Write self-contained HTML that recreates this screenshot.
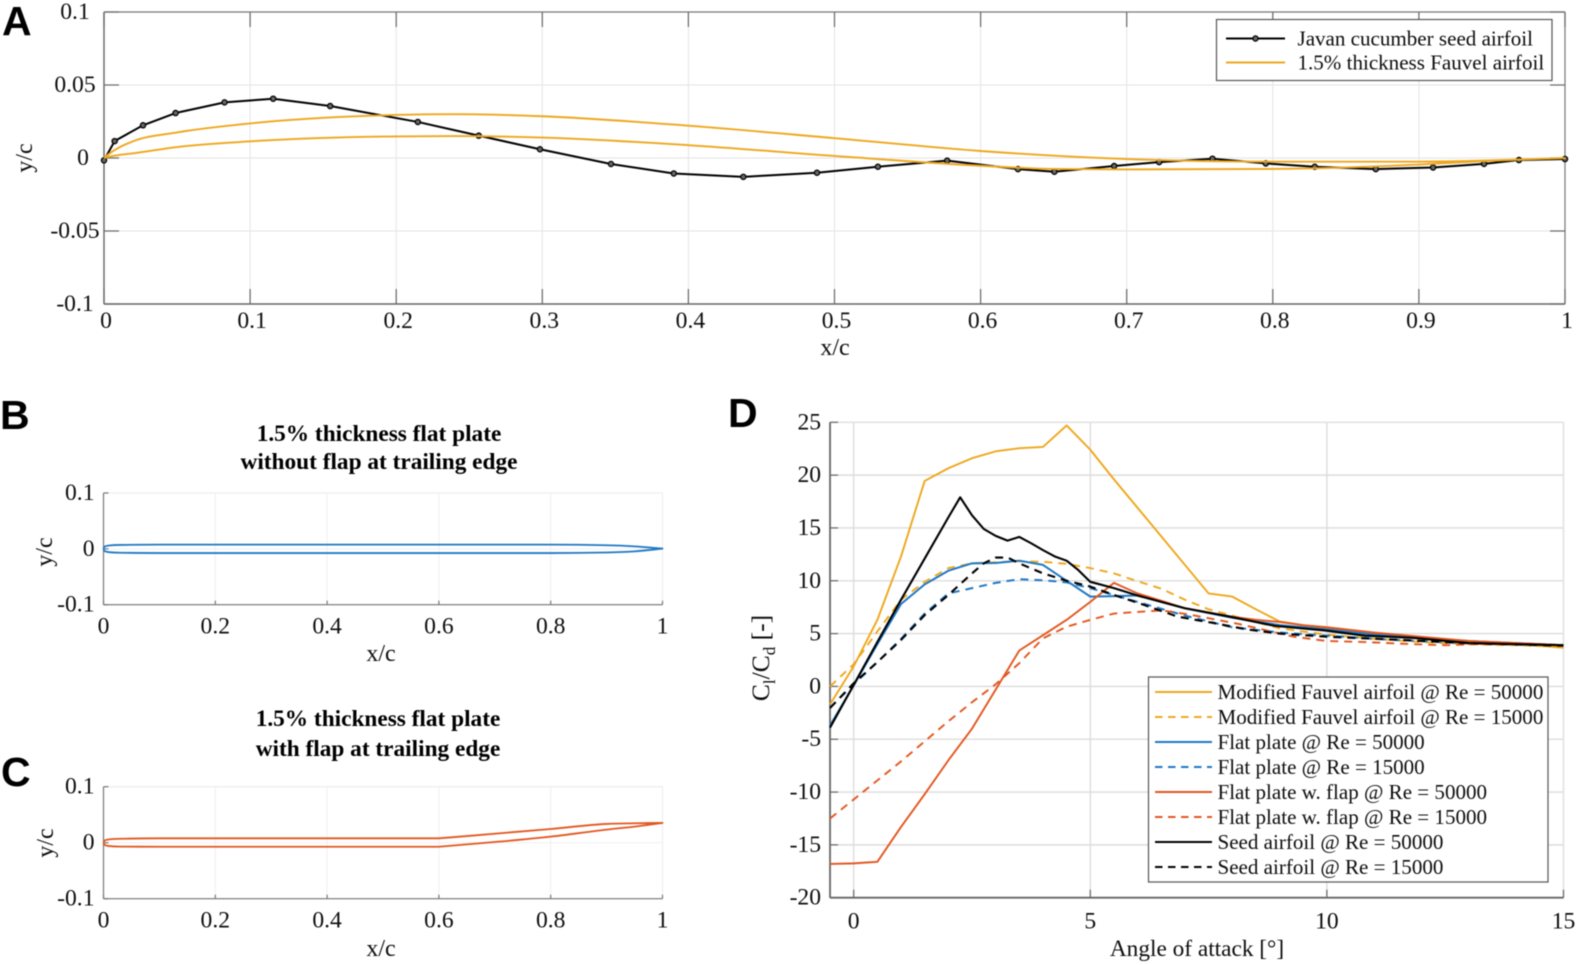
<!DOCTYPE html>
<html lang="en">
<head>
<meta charset="utf-8">
<title>Airfoil geometry and lift-to-drag comparison</title>
<style>
  html, body { margin: 0; padding: 0; background: #fff; }
  #figure { display: block; width: 1577px; height: 965px; filter: blur(0.4px); }
  text { font-family: "Liberation Serif", serif; fill: #0d0d0d; }
  .panel-letter { font-family: "Liberation Sans", sans-serif; font-weight: 700; font-size: 41px; fill: #000; }
  .title { font-weight: 700; font-size: 23.3px; text-anchor: middle; fill: #000; }
  .axis-title { font-size: 24px; text-anchor: middle; }
  .tick { font-size: 23.6px; }
  .legend-text { font-size: 21.05px; }
</style>
</head>
<body>
<svg id="figure" xmlns="http://www.w3.org/2000/svg" width="1577" height="965" viewBox="0 0 1577 965">
  <rect width="1577" height="965" fill="#fff"/>
  <g id="plots"></g>

  <text class="panel-letter" x="2" y="35">A</text>
  <text class="panel-letter" x="0" y="429">B</text>
  <text class="panel-letter" x="1" y="786">C</text>
  <text class="panel-letter" x="728" y="427">D</text>

  <text class="title" x="379" y="441">1.5% thickness flat plate</text>
  <text class="title" x="379" y="469">without flap at trailing edge</text>
  <text class="title" x="378" y="726">1.5% thickness flat plate</text>
  <text class="title" x="378" y="756">with flap at trailing edge</text>

  <text class="axis-title" x="835" y="355">x/c</text>
  <text class="axis-title" transform="translate(32,158) rotate(-90)">y/c</text>
  <text class="axis-title" x="381" y="661">x/c</text>
  <text class="axis-title" transform="translate(52,552) rotate(-90)">y/c</text>
  <text class="axis-title" x="381" y="956">x/c</text>
  <text class="axis-title" transform="translate(53,843) rotate(-90)">y/c</text>
  <text class="axis-title" x="1197" y="956" style="font-size:23.3px">Angle of attack [°]</text>
  <text class="axis-title" transform="translate(769,658) rotate(-90)" style="font-size:25.5px">C<tspan dy="6" font-size="17">l</tspan><tspan dy="-6">/C</tspan><tspan dy="6" font-size="17">d</tspan><tspan dy="-6"> [-]</tspan></text>

  <g id="legend-a"></g>
  <g id="legend-d"></g>
</svg>

<script>
// ---------- Panel A data ----------
const seedX = [0, 0.0073, 0.0267, 0.049, 0.0825, 0.1158, 0.1548, 0.2148, 0.2565, 0.2984, 0.347, 0.39, 0.4376, 0.488, 0.5297, 0.5771, 0.6256, 0.6505, 0.6914, 0.7222, 0.7587, 0.7952, 0.8287, 0.8705, 0.9097, 0.9446, 0.9685, 1];
const seedY = [-0.0016, 0.0116, 0.0224, 0.0308, 0.0381, 0.0406, 0.0356, 0.0247, 0.0153, 0.006, -0.0041, -0.0106, -0.0129, -0.0101, -0.006, -0.0018, -0.0076, -0.0094, -0.0055, -0.0028, -0.0005, -0.0037, -0.006, -0.0076, -0.0065, -0.004, -0.0014, -0.0007];
const fauvelX = [0, 0.005, 0.01, 0.02, 0.05, 0.1, 0.15, 0.2, 0.24, 0.3, 0.4, 0.5, 0.6, 0.7, 0.8, 0.9, 1, 0.95, 0.9, 0.8, 0.7, 0.65, 0.6, 0.5, 0.4, 0.3, 0.24, 0.2, 0.1, 0.05, 0.02, 0.01, 0.005, 0];
const fauvelY = [0, 0.004, 0.007, 0.0115, 0.0175, 0.0237, 0.0275, 0.0295, 0.03, 0.0286, 0.0221, 0.0136, 0.0048, -0.0007, -0.0025, -0.0025, 0, -0.0018, -0.0045, -0.0075, -0.0078, -0.0075, -0.0053, 0.0014, 0.0088, 0.014, 0.015, 0.0148, 0.0114, 0.0075, 0.0032, 0.002, 0.0012, 0];

// ---------- Panels B and C data ----------
const plateX = [0, 0.002, 0.01, 0.03, 0.1, 0.4, 0.8, 0.9, 0.95, 1, 0.95, 0.9, 0.8, 0.4, 0.1, 0.03, 0.01, 0.002, 0];
const plateY = [0, 0.004, 0.006, 0.007, 0.0075, 0.0075, 0.0075, 0.0065, 0.0045, 0.0005, -0.0045, -0.0065, -0.0075, -0.0075, -0.0075, -0.007, -0.006, -0.004, 0];
const flapX = [0, 0.002, 0.01, 0.03, 0.1, 0.4, 0.6, 0.8, 0.9, 0.95, 1, 0.95, 0.9, 0.8, 0.7, 0.6, 0.4, 0.1, 0.03, 0.01, 0.002, 0];
const flapY = [0, 0.004, 0.006, 0.007, 0.0078, 0.0078, 0.0078, 0.0245, 0.0335, 0.0347, 0.0353, 0.0287, 0.0234, 0.0108, 0.0012, -0.0072, -0.0072, -0.0072, -0.007, -0.006, -0.004, 0];

// ---------- Panel D data ----------
const fauvel50kAoa = [-0.5, 0, 0.5, 1, 1.5, 2, 2.5, 3, 3.5, 4, 4.5, 5, 5.5, 6, 6.5, 7, 7.5, 8, 8.5, 9, 9.5, 10, 10.5, 11, 11.5, 12, 12.5, 13, 13.5, 14, 14.5, 15];
const fauvel50kRatio = [-1.7, 1.9, 6.3, 12.3, 19.45, 20.65, 21.6, 22.25, 22.55, 22.67, 24.7, 22.4, 19.6, 16.9, 14.2, 11.5, 8.8, 8.5, 7.3, 6.15, 5.8, 5.5, 5.25, 5.0, 4.8, 4.6, 4.4, 4.2, 4.1, 4.0, 3.85, 3.65];
const fauvel15kAoa = [-0.5, 0, 0.5, 1, 1.5, 2, 2.5, 3, 3.5, 4, 4.5, 5, 5.5, 6, 6.5, 7, 7.5, 8, 8.5, 9, 10, 11, 12, 13, 14, 15];
const fauvel15kRatio = [0, 2.1, 5.2, 8.2, 9.9, 11.2, 11.65, 11.75, 11.85, 11.8, 11.6, 11.2, 10.7, 9.95, 9.25, 8.2, 7.3, 6.7, 6.1, 5.5, 4.9, 4.5, 4.2, 4.0, 3.9, 3.75];
const flat50kAoa = [-0.5, 0, 0.5, 1, 1.5, 2, 2.5, 3, 3.5, 4, 4.5, 5, 5.5, 6, 6.5, 7, 8, 9, 10, 11, 12, 13, 14, 15];
const flat50kRatio = [-3.7, 0.1, 4.0, 7.8, 9.66, 10.95, 11.65, 11.68, 11.9, 11.5, 10, 8.5, 8.55, 8.6, 8.0, 7.4, 6.5, 5.8, 5.4, 4.9, 4.6, 4.3, 4.1, 3.9];
const flat15kAoa = [-0.5, 0, 0.5, 1, 1.5, 2, 2.5, 3, 3.5, 4, 4.5, 5, 6, 7, 8, 9, 10, 11, 12, 13, 14, 15];
const flat15kRatio = [-2.0, 0.2, 2.3, 4.5, 6.9, 8.8, 9.3, 9.8, 10.15, 10.05, 9.85, 9.3, 8.0, 6.7, 5.6, 5.1, 4.8, 4.5, 4.3, 4.1, 4.0, 3.9];
const flap50kAoa = [-0.5, 0, 0.5, 1, 1.5, 2, 2.5, 3, 3.5, 4, 4.5, 5, 5.5, 6, 6.5, 7, 7.5, 8, 8.5, 9, 9.5, 10, 11, 12, 13, 14, 15];
const flap50kRatio = [-16.8, -16.75, -16.6, -13.3, -10.2, -7, -4, -0.3, 3.4, 4.85, 6.3, 8.0, 9.8, 8.8, 8.1, 7.4, 7.0, 6.6, 6.3, 6.1, 5.8, 5.6, 5.1, 4.7, 4.3, 4.1, 3.9];
const flap15kAoa = [-0.5, 0, 0.5, 1, 1.5, 2, 2.5, 3, 3.5, 4, 4.5, 5, 5.5, 6, 6.5, 7.1, 8.15, 9.3, 10, 10.8, 11.8, 12.5, 13.1, 15];
const flap15kRatio = [-12.5, -10.7, -8.9, -7.1, -5.2, -3.3, -1.5, 0.2, 2.2, 4.55, 5.65, 6.3, 6.9, 7.05, 7.2, 6.8, 5.9, 4.7, 4.3, 4.2, 4.0, 3.9, 4.0, 3.9];
const seed50kAoa = [-0.5, 0, 0.5, 1, 1.5, 2, 2.25, 2.5, 2.75, 3, 3.25, 3.5, 3.75, 4, 4.25, 4.5, 4.75, 5, 5.5, 6, 7, 7.9, 8.9, 9.95, 10.8, 11.8, 13, 15];
const seed50kRatio = [-3.9, 0.15, 4.2, 8.2, 12.1, 16, 17.9, 16.2, 14.9, 14.25, 13.8, 14.15, 13.55, 12.9, 12.3, 11.9, 11, 9.9, 9.3, 8.6, 7.4, 6.65, 5.73, 5.3, 4.8, 4.6, 4.1, 3.9];
const seed15kAoa = [-0.5, 0, 0.5, 1, 1.5, 2, 2.5, 2.75, 3, 3.25, 3.5, 4, 4.5, 5, 5.5, 6.05, 6.85, 7.6, 8.3, 9, 10, 11.1, 12.9, 15];
const seed15kRatio = [-2.05, 0.3, 2.3, 4.4, 6.75, 8.65, 10.7, 11.65, 12.2, 12.2, 11.65, 10.7, 10, 9.45, 8.65, 7.85, 6.6, 6.0, 5.4, 5.0, 4.7, 4.5, 4.1, 3.85];

// ---------- Tick labels ----------
const panelAXTicks = [0, 0.1, 0.2, 0.3, 0.4, 0.5, 0.6, 0.7, 0.8, 0.9, 1];
const panelAYTicks = [-0.1, -0.05, 0, 0.05, 0.1];
const plateXTicks = [0, 0.2, 0.4, 0.6, 0.8, 1];
const plateYTicks = [-0.1, 0, 0.1];
const panelDXTicks = [0, 5, 10, 15];
const panelDYTicks = [-20, -15, -10, -5, 0, 5, 10, 15, 20, 25];

// ---------- Legend labels ----------
const panelALegendLabels = ['Javan cucumber seed airfoil', '1.5% thickness Fauvel airfoil'];
const panelDLegendLabels = ['Modified Fauvel airfoil @ Re = 50000', 'Modified Fauvel airfoil @ Re = 15000', 'Flat plate @ Re = 50000', 'Flat plate @ Re = 15000', 'Flat plate w. flap @ Re = 50000', 'Flat plate w. flap @ Re = 15000', 'Seed airfoil @ Re = 50000', 'Seed airfoil @ Re = 15000'];

// ---------- Styles ----------
const ORANGE = '#eea71c', BLUE = '#1f78c4', RED = '#e2561f', BLACK = '#000';
const DASH = '8 6';
const SVG_NS = 'http://www.w3.org/2000/svg';
const plots = document.getElementById('plots');

function make(tag, attrs, parent) {
  const el = document.createElementNS(SVG_NS, tag);
  for (const k in attrs) el.setAttribute(k, attrs[k]);
  (parent || plots).appendChild(el);
  return el;
}
function linear(d0, d1, r0, r1) {
  return v => r0 + (v - d0) * (r1 - r0) / (d1 - d0);
}
function pathFrom(xs, ys, sx, sy) {
  return xs.map((x, i) => (i ? 'L' : 'M') + sx(x).toFixed(2) + ' ' + sy(ys[i]).toFixed(2)).join('');
}
// Monotone cubic through one x-monotonic run of screen points.
function monotoneRun(pts) {
  const n = pts.length;
  if (n < 2) return '';
  if (n === 2) return 'L' + pts[1][0].toFixed(2) + ' ' + pts[1][1].toFixed(2);
  const h = [], s = [], m = [];
  for (let i = 0; i < n - 1; i++) {
    h.push(pts[i + 1][0] - pts[i][0]);
    s.push((pts[i + 1][1] - pts[i][1]) / h[i]);
  }
  for (let i = 1; i < n - 1; i++) {
    const q = (s[i - 1] * h[i] + s[i] * h[i - 1]) / (h[i - 1] + h[i]);
    m[i] = (Math.sign(s[i - 1]) + Math.sign(s[i])) * Math.min(Math.abs(s[i - 1]), Math.abs(s[i]), 0.5 * Math.abs(q));
  }
  m[0] = (3 * s[0] - m[1]) / 2;
  m[n - 1] = (3 * s[n - 2] - m[n - 2]) / 2;
  let d = '';
  for (let i = 0; i < n - 1; i++) {
    const t = h[i] / 3;
    d += 'C' + (pts[i][0] + t).toFixed(2) + ' ' + (pts[i][1] + m[i] * t).toFixed(2) + ' ' +
      (pts[i + 1][0] - t).toFixed(2) + ' ' + (pts[i + 1][1] - m[i + 1] * t).toFixed(2) + ' ' +
      pts[i + 1][0].toFixed(2) + ' ' + pts[i + 1][1].toFixed(2);
  }
  return d;
}
// Smooth outline: breaks at the leading/trailing edge turn-around and at an optional hinge x.
function smoothPathFrom(xs, ys, sx, sy, hingeX) {
  let d = 'M' + sx(xs[0]).toFixed(2) + ' ' + sy(ys[0]).toFixed(2);
  let run = [[sx(xs[0]), sy(ys[0])]];
  for (let i = 1; i < xs.length; i++) {
    run.push([sx(xs[i]), sy(ys[i])]);
    const turn = i < xs.length - 1 && (xs[i + 1] - xs[i]) * (xs[i] - xs[i - 1]) < 0;
    if (turn || xs[i] === hingeX || i === xs.length - 1) {
      d += monotoneRun(run);
      run = [[sx(xs[i]), sy(ys[i])]];
    }
  }
  return d;
}

function drawAxes(p) {
  const g = make('g', {});
  
  
  const xs = p.sx, ys = p.sy;
  const L = xs(p.xDomain[0]), R = xs(p.xDomain[1]), T = ys(p.yDomain[1]), B = ys(p.yDomain[0]);

  p.xTicks.forEach(t => {
    const grid = make('line', { x1: xs(t), x2: xs(t), y1: T, y2: B, stroke: p.gridColor, 'stroke-width': p.gridWidth }, g);
    
    
  });
  p.yTicks.forEach(t => {
    const grid = make('line', { x1: L, x2: R, y1: ys(t), y2: ys(t), stroke: p.gridColor, 'stroke-width': p.gridWidth }, g);
    
    
  });

  const top = make('line', { x1: L, x2: R, y1: T, y2: T, stroke: p.boxColor, 'stroke-width': p.boxWidth }, g);
  
  
  const right = make('line', { x1: R, x2: R, y1: T, y2: B, stroke: p.boxColor, 'stroke-width': p.boxWidth }, g);
  
  

  p.xTicks.forEach(t => {
    const tick = make('line', { x1: xs(t), x2: xs(t), y1: B, y2: B - p.tickLen, stroke: p.axisColor, 'stroke-width': 1.2 }, g);
    
    
    if (p.topTicks) {
      const tickTop = make('line', { x1: xs(t), x2: xs(t), y1: T, y2: T + p.tickLen, stroke: p.axisColor, 'stroke-width': 1.2 }, g);
      
      
    }
    const label = make('text', { x: xs(t) + p.xLabelShift, y: B + p.xLabelOffset, 'text-anchor': 'middle', class: 'tick' }, g);
    
    
    label.textContent = String(t);
  });
  p.yTicks.forEach(t => {
    const tick = make('line', { x1: L, x2: L + p.yTickLen, y1: ys(t), y2: ys(t), stroke: p.axisColor, 'stroke-width': 1.2 }, g);
    
    
    if (p.topTicks) {
      const tickRight = make('line', { x1: R, x2: R - p.yTickLen, y1: ys(t), y2: ys(t), stroke: p.axisColor, 'stroke-width': 1.2 }, g);
      
      
    }
    const labelAttrs = p.centerYLabels
      ? { x: t === 0 ? L - 21 : L - 29, y: ys(t) + 7, 'text-anchor': 'middle', class: 'tick' }
      : { x: L - p.yLabelGap, y: ys(t) + 7, 'text-anchor': 'end', class: 'tick' };
    const label = make('text', labelAttrs, g);
    
    
    label.textContent = String(t);
  });

  const left = make('line', { x1: L, x2: L, y1: T, y2: B, stroke: p.axisColor, 'stroke-width': p.axisWidth }, g);
  
  
  const bottom = make('line', { x1: L, x2: R, y1: B, y2: B, stroke: p.axisColor, 'stroke-width': p.axisWidth }, g);
  
  
}

function drawSeries(xs, ys, p, color, width, dash, name) {
  const path = make('path', { d: pathFrom(xs, ys, p.sx, p.sy), fill: 'none', stroke: color, 'stroke-width': width, 'stroke-linejoin': 'round', 'stroke-dasharray': dash || 'none' });
  
  
  return path;
}
function drawOutline(xs, ys, p, color, width, name, hingeX) {
  const path = make('path', { d: smoothPathFrom(xs, ys, p.sx, p.sy, hingeX), fill: 'none', stroke: color, 'stroke-width': width, 'stroke-linejoin': 'round' });
  
  
  return path;
}

// ---------- Panel A ----------
const panelA = {
  name: 'panel-a', xDomain: [0, 1], yDomain: [-0.1, 0.1],
  sx: linear(0, 1, 104, 1565), sy: linear(-0.1, 0.1, 304, 12),
  xTicks: panelAXTicks, yTicks: panelAYTicks,
  gridColor: '#e4e4e4', gridWidth: 1, boxColor: '#777', boxWidth: 1.2, axisColor: '#666', axisWidth: 1.4,
  tickLen: 15, yTickLen: 15, topTicks: true, xLabelShift: 2, xLabelOffset: 24, yLabelGap: 11, centerYLabels: true
};
drawAxes(panelA);
drawSeries(seedX, seedY, panelA, BLACK, 2, null, 'seed-airfoil-line');
seedX.forEach((x, i) => {
  const dot = make('circle', { cx: panelA.sx(x), cy: panelA.sy(seedY[i]), r: 2.6, fill: '#666', stroke: BLACK, 'stroke-width': 1.3 });
  
  
});
drawOutline(fauvelX, fauvelY, panelA, ORANGE, 1.9, 'fauvel-airfoil-line');

// ---------- Panels B and C ----------
function platePanel(name, top, bottom) {
  return {
    name: name, xDomain: [0, 1], yDomain: [-0.1, 0.1],
    sx: linear(0, 1, 103.5, 662.5), sy: linear(-0.1, 0.1, bottom, top),
    xTicks: plateXTicks, yTicks: plateYTicks,
    gridColor: '#efefef', gridWidth: 1, boxColor: '#ececec', boxWidth: 1, axisColor: '#777', axisWidth: 1.2,
    tickLen: 4, yTickLen: 5, topTicks: false, xLabelShift: 0, xLabelOffset: 29, yLabelGap: 9
  };
}
const panelB = platePanel('panel-b', 493, 604.7);
drawAxes(panelB);
drawOutline(plateX, plateY, panelB, BLUE, 1.8, 'flat-plate-outline');
const panelC = platePanel('panel-c', 786.7, 898.7);
drawAxes(panelC);
drawOutline(flapX, flapY, panelC, RED, 1.8, 'flapped-plate-outline', 0.6);

// ---------- Panel D ----------
const panelD = {
  name: 'panel-d', xDomain: [-0.5, 15], yDomain: [-20, 25],
  sx: linear(0, 5, 853.7, 1090.3), sy: linear(-20, 25, 897.7, 422.3),
  xTicks: panelDXTicks, yTicks: panelDYTicks,
  gridColor: '#dcdcdc', gridWidth: 1.4, boxColor: '#e2e2e2', boxWidth: 1.2, axisColor: '#666', axisWidth: 1.8,
  tickLen: 8, yTickLen: 8, topTicks: false, xLabelShift: 0, xLabelOffset: 31, yLabelGap: 9
};
drawAxes(panelD);
drawSeries(fauvel50kAoa, fauvel50kRatio, panelD, ORANGE, 1.9, null, 'fauvel-re-50000-line');
drawSeries(fauvel15kAoa, fauvel15kRatio, panelD, ORANGE, 1.9, DASH, 'fauvel-re-15000-line');
drawSeries(flat50kAoa, flat50kRatio, panelD, BLUE, 2, null, 'flat-plate-re-50000-line');
drawSeries(flat15kAoa, flat15kRatio, panelD, BLUE, 2, DASH, 'flat-plate-re-15000-line');
drawSeries(flap50kAoa, flap50kRatio, panelD, RED, 1.9, null, 'flap-plate-re-50000-line');
drawSeries(flap15kAoa, flap15kRatio, panelD, RED, 1.9, DASH, 'flap-plate-re-15000-line');
drawSeries(seed50kAoa, seed50kRatio, panelD, BLACK, 2.1, null, 'seed-re-50000-line');
drawSeries(seed15kAoa, seed15kRatio, panelD, BLACK, 2.1, DASH, 'seed-re-15000-line');

// ---------- Legends ----------
const legendAGroup = document.getElementById('legend-a');
const legendABox = make('rect', { x: 1216.5, y: 19.5, width: 335.5, height: 61, fill: '#fff', stroke: '#555', 'stroke-width': 1.2 }, legendAGroup);


const legendAColors = [BLACK, ORANGE];
panelALegendLabels.forEach((label, i) => {
  const rowY = 38.5 + i * 24;
  const handle = make('line', { x1: 1226, x2: 1285, y1: rowY, y2: rowY, stroke: legendAColors[i], 'stroke-width': 1.9 }, legendAGroup);
  
  
  const text = make('text', { x: 1297.5, y: rowY + 7, class: 'legend-text' }, legendAGroup);
  
  
  text.textContent = label;
});
const legendAMarker = make('circle', { cx: 1255.5, cy: 38.5, r: 2.6, fill: '#666', stroke: BLACK, 'stroke-width': 1.3 }, legendAGroup);



const legendDGroup = document.getElementById('legend-d');
const legendDBox = make('rect', { x: 1148.5, y: 677, width: 399.5, height: 205, fill: '#fff', stroke: '#555', 'stroke-width': 1.2 }, legendDGroup);


const legendDColors = [ORANGE, ORANGE, BLUE, BLUE, RED, RED, BLACK, BLACK];
panelDLegendLabels.forEach((label, i) => {
  const rowY = 692 + i * 25;
  const handle = make('line', { x1: 1155, x2: 1212, y1: rowY, y2: rowY, stroke: legendDColors[i], 'stroke-width': 1.9, 'stroke-dasharray': i % 2 ? '7.5 5.5' : 'none' }, legendDGroup);
  
  
  const text = make('text', { x: 1217.5, y: rowY + 7, class: 'legend-text' }, legendDGroup);
  
  
  text.textContent = label;
});
</script>
</body>
</html>
